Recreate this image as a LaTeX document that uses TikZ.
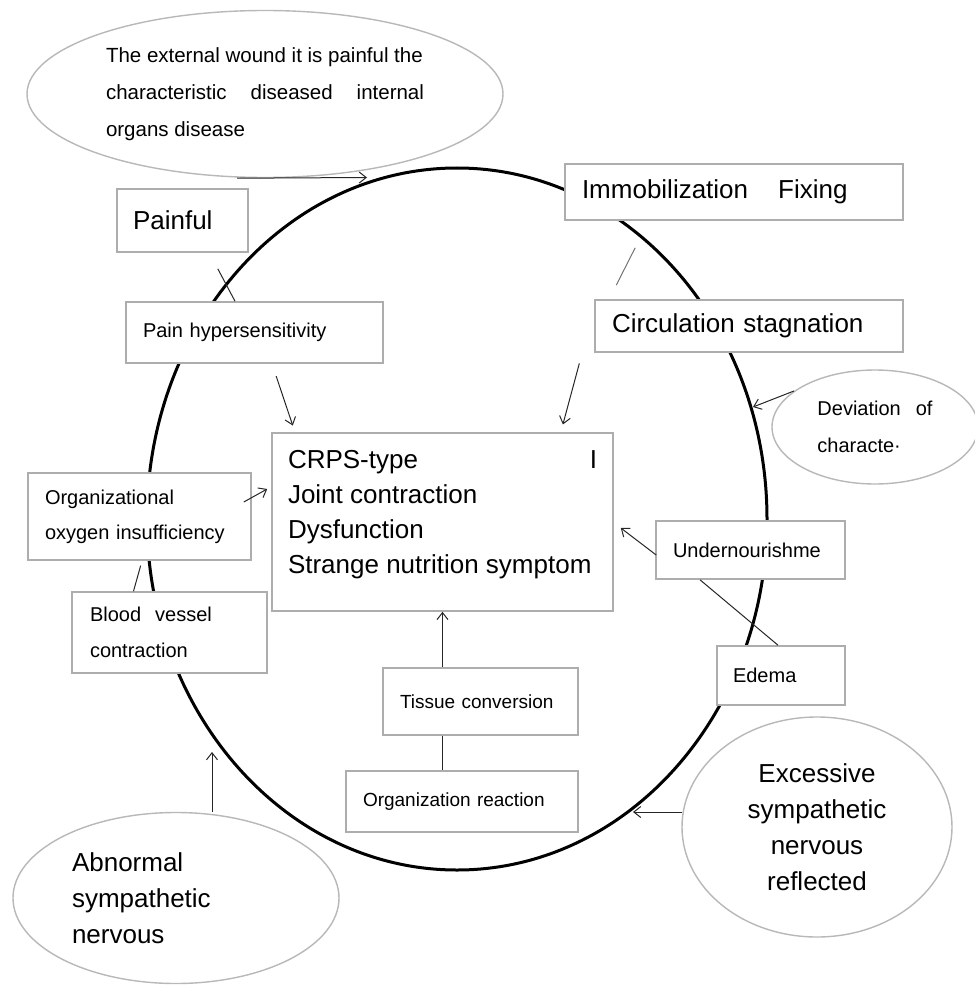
\documentclass[tikz,border=0pt]{standalone}
\usepackage{fontspec}
\setmainfont{Liberation Sans}
\usetikzlibrary{arrows.meta,shapes.geometric}
\newcommand{\bigtxt}{\fontsize{26}{35}\selectfont}
\newcommand{\midtxt}{\fontsize{20}{36}\selectfont}
\newcommand{\smltxt}{\fontsize{19}{36}\selectfont}

\begin{document}
\begin{tikzpicture}[x=1pt,y=-1pt,
    stagebox/.style={draw=black!32, line width=1.6pt, fill=white, inner ysep=0pt},
    bubble/.style={ellipse, draw=black!28, line width=1.4pt, fill=white, inner sep=0pt},
    link/.style={line width=1pt, black!85},
    >={Straight Barb[length=7pt,width=11pt]}]
    \useasboundingbox (0,0) rectangle (974,987);
    % the loop
    \draw[line width=3pt] (457,519) ellipse [x radius=310pt, y radius=351pt];
    \coordinate (woundtip) at (367,177.5);
    \coordinate (devtip) at (753,407);
    \coordinate (exctip) at (633,812);
    \coordinate (abntip) at (212,752);
    % outer causes
    \node[bubble, minimum width=476pt, minimum height=167pt, align=left,
      font=\fontsize{20.5}{37}\selectfont] (wound) at (265,94)
      {The external wound it is painful the\\
       \makebox[318pt][s]{characteristic diseased internal}\\
       organs disease};
    \node[bubble, minimum width=206pt, minimum height=114pt, align=left,
      font=\fontsize{20}{37}\selectfont] (dev) at (875,427)
      {Deviation\hspace{15pt}of\\characte·};
    \node[bubble, minimum width=326pt, minimum height=171pt, text width=208pt,
      align=left, font=\fontsize{26}{36}\selectfont] (abn) at (176,898)
      {Abnormal\\sympathetic\\nervous};
    \node[bubble, minimum width=270pt, minimum height=220pt, align=center,
      font=\fontsize{26}{36}\selectfont] (excess) at (817,827)
      {Excessive\\sympathetic\\nervous\\reflected};
    % boxes on the loop
    \node[stagebox, text width=99pt, inner xsep=16pt, minimum height=63pt,
      align=left, font=\bigtxt] (painful) at (182.5,220.5) {Painful};
    \node[stagebox, text width=304pt, inner xsep=17pt, minimum height=56pt,
      align=left, font=\bigtxt] (immob) at (734,192)
      {Immobilization\hspace{30pt}Fixing};
    \node[stagebox, text width=223pt, inner xsep=17pt, minimum height=61pt,
      align=left, font=\midtxt] (phyper) at (254.5,332.5) {Pain hypersensitivity};
    \node[stagebox, text width=274pt, inner xsep=17pt, minimum height=52pt,
      align=left, font=\bigtxt] (circ) at (749,326) {Circulation stagnation};
    \node[stagebox, text width=189pt, inner xsep=17pt, minimum height=87pt,
      align=left, font=\fontsize{20}{35}\selectfont] (orgox) at (139.5,516.5)
      {Organizational\\oxygen insufficiency};
    \node[stagebox, text width=159pt, inner xsep=18pt, minimum height=81pt,
      align=left, font=\midtxt] (blood) at (169.5,632.5)
      {Blood\hspace{14pt}vessel\\contraction};
    \node[stagebox, text width=155pt, inner xsep=17pt, minimum height=58pt,
      align=left, font=\midtxt] (under) at (750.5,550) {Undernourishme};
    \node[stagebox, text width=96pt, inner xsep=16pt, minimum height=59pt,
      align=left, font=\midtxt] (edema) at (781,675.5) {Edema};
    \node[stagebox, text width=161pt, inner xsep=17pt, minimum height=67pt,
      align=left, font=\smltxt] (tissue) at (480.5,701.5) {Tissue conversion};
    \node[stagebox, text width=198pt, inner xsep=17pt, minimum height=61pt,
      align=left, font=\smltxt] (orgreact) at (462,801.5) {Organization reaction};
    % centre
    \node[stagebox, inner xsep=16pt, inner ysep=17pt, font=\bigtxt] (crps) at (442.5,522)
      {\parbox[c][144pt][t]{309pt}{CRPS-type\hfill I\\Joint contraction\\
       Dysfunction\\Strange nutrition symptom}};
    % connectors
    \draw[link,->] ([xshift=-28pt]wound.south) -- (woundtip);
    \draw[link] ([shift={(-31,16)}]painful.south east) -- ([xshift=-19.5pt]phyper.north);
    \draw[link, black!55] ([shift={(71,27)}]immob.south west) -- ([shift={(22,-14)}]circ.north west);
    \draw[link,->,shorten <=13pt,shorten >=7pt] ([xshift=17.5pt]phyper.south) -- ([xshift=-147.5pt]crps.north);
    \draw[link,->,shorten <=11pt,shorten >=8pt] ([xshift=-12pt]circ.south west) -- ([xshift=-53pt]crps.north east);
    \draw[link,->] (dev.156) -- (devtip);
    \draw[link,->] ([shift={(-8,-14.5)}]orgox.east) -- ([shift={(-4,-33)}]crps.west);
    \draw[link,shorten >=5pt] ([xshift=-36pt]blood.north) -- ([xshift=2.5pt]orgox.south);
    \draw[link,->] ([shift={(1,5)}]under.west) -- ([shift={(7,6)}]crps.east);
    \draw[link] ([xshift=-50.5pt]under.south) -- ([xshift=-3pt]edema.north);
    \draw[link,->] (tissue.north -| crps.south) -- (crps.south);
    \draw[link] (orgreact.north -| crps.south) -- (tissue.south -| crps.south);
    \draw[link,->] ([shift={(1,-15)}]excess.west) -- (exctip);
    \draw[link,->] ([xshift=36pt]abn.north) -- (abntip);
\end{tikzpicture}
\end{document}
